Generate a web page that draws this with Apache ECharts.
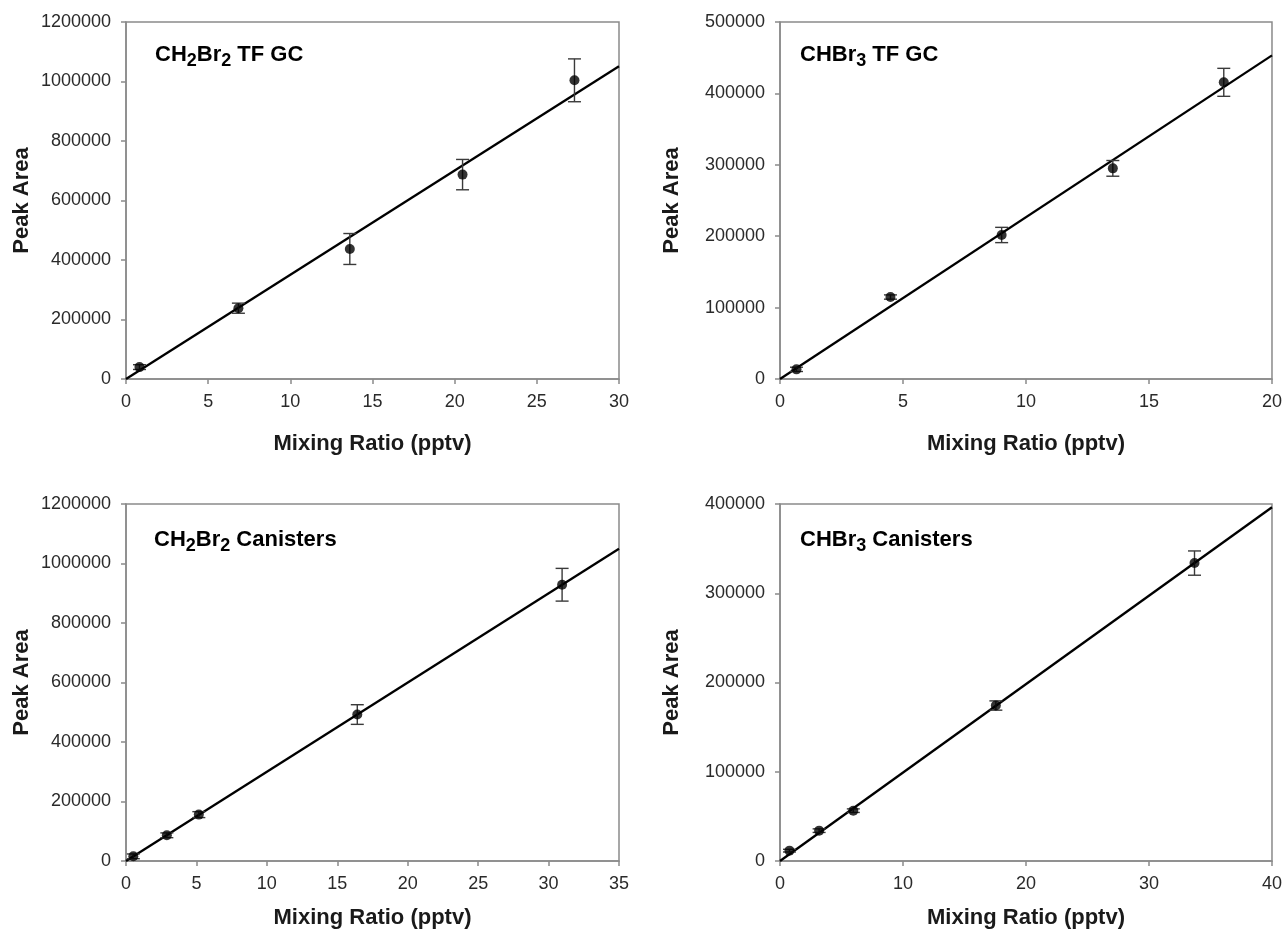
<!DOCTYPE html>
<html>
<head>
<meta charset="utf-8">
<title>Peak area calibration</title>
<script src="https://cdn.jsdelivr.net/npm/echarts@6/dist/echarts.min.js"></script>
<style>
  html, body { margin: 0; padding: 0; background: #fff; }
  #chart { width: 1285px; height: 933px; }
</style>
</head>
<body>
<div id="chart"></div>
<script>
// CH2Br2, TF GC standards
const xCH2Br2TF = [0.82, 6.84, 13.62, 20.48, 27.29];
const yCH2Br2TF = [40000, 238000, 437000, 687000, 1004000];
const eCH2Br2TF = [8000, 17000, 52000, 51000, 72000];
const fitCH2Br2TF = [[0, 0], [30, 1051000]];

// CHBr3, TF GC standards
const xCHBr3TF = [0.67, 4.49, 9.01, 13.53, 18.04];
const yCHBr3TF = [13500, 114800, 201700, 295000, 415500];
const eCHBr3TF = [3000, 3000, 10700, 11000, 19600];
const fitCHBr3TF = [[0, 0], [20, 453300]];

// CH2Br2, canister standards
const xCH2Br2Can = [0.52, 2.90, 5.17, 16.42, 30.96];
const yCH2Br2Can = [15700, 86400, 155900, 492300, 928600];
const eCH2Br2Can = [8000, 8000, 10000, 33000, 55000];
const fitCH2Br2Can = [[0, 0], [35, 1049700]];

// CHBr3, canister standards
const xCHBr3Can = [0.77, 3.18, 5.96, 17.55, 33.70];
const yCHBr3Can = [11600, 34000, 56400, 174200, 333800];
const eCHBr3Can = [1500, 2000, 2000, 5200, 13600];
const fitCHBr3Can = [[0, 0], [40, 396300]];

// axis ranges: [xMax, xStep, yMax, yStep]
const axisCH2Br2TF = [30, 5, 1200000, 200000];
const axisCHBr3TF = [20, 5, 500000, 100000];
const axisCH2Br2Can = [35, 5, 1200000, 200000];
const axisCHBr3Can = [40, 10, 400000, 100000];

const xTitle = 'Mixing Ratio (pptv)';
const yTitle = 'Peak Area';

const FONT = '"Liberation Sans", Arial, Helvetica, sans-serif';
const AXIS_GRAY = '#8a8a8a';

const panels = [
  { x: xCH2Br2TF, y: yCH2Br2TF, e: eCH2Br2TF, fit: fitCH2Br2TF, ax: axisCH2Br2TF,
    grid: { left: 126, top: 22, width: 493, height: 357 }, xGap: 54, yGap: 93,
    label: '{m|CH}{s|2}{m|Br}{s|2}{m| TF GC}', lx: 155, ly: 44 },
  { x: xCHBr3TF, y: yCHBr3TF, e: eCHBr3TF, fit: fitCHBr3TF, ax: axisCHBr3TF,
    grid: { left: 780, top: 22, width: 492, height: 357 }, xGap: 54, yGap: 97,
    label: '{m|CHBr}{s|3}{m| TF GC}', lx: 800, ly: 44 },
  { x: xCH2Br2Can, y: yCH2Br2Can, e: eCH2Br2Can, fit: fitCH2Br2Can, ax: axisCH2Br2Can,
    grid: { left: 126, top: 504, width: 493, height: 357 }, xGap: 46, yGap: 93,
    label: '{m|CH}{s|2}{m|Br}{s|2}{m| Canisters}', lx: 154, ly: 529 },
  { x: xCHBr3Can, y: yCHBr3Can, e: eCHBr3Can, fit: fitCHBr3Can, ax: axisCHBr3Can,
    grid: { left: 780, top: 504, width: 492, height: 357 }, xGap: 46, yGap: 97,
    label: '{m|CHBr}{s|3}{m| Canisters}', lx: 800, ly: 529 }
];

const grids = [], xAxes = [], yAxes = [], series = [], graphics = [];

panels.forEach((p, i) => {
  grids.push(Object.assign({ show: true, borderColor: AXIS_GRAY, borderWidth: 1.5,
    backgroundColor: 'transparent', containLabel: false }, p.grid));

  xAxes.push({
    gridIndex: i, type: 'value', min: 0, max: p.ax[0], interval: p.ax[1],
    name: xTitle, nameLocation: 'middle', nameGap: p.xGap,
    nameTextStyle: { fontFamily: FONT, fontSize: 22, fontWeight: 'bold', color: '#1a1a1a' },
    axisLine: { show: true, onZero: false, lineStyle: { color: AXIS_GRAY, width: 1.5 } },
    axisTick: { show: true, inside: false, length: 5, lineStyle: { color: AXIS_GRAY, width: 1.5 } },
    axisLabel: { fontFamily: FONT, fontSize: 18, color: '#2a2a2a', margin: 14 },
    splitLine: { show: false }
  });

  yAxes.push({
    gridIndex: i, type: 'value', min: 0, max: p.ax[2], interval: p.ax[3],
    name: yTitle, nameLocation: 'middle', nameGap: p.yGap, nameRotate: 90,
    nameTextStyle: { fontFamily: FONT, fontSize: 22, fontWeight: 'bold', color: '#1a1a1a' },
    axisLine: { show: true, onZero: false, lineStyle: { color: AXIS_GRAY, width: 1.5 } },
    axisTick: { show: true, inside: false, length: 5, lineStyle: { color: AXIS_GRAY, width: 1.5 } },
    axisLabel: { fontFamily: FONT, fontSize: 18, color: '#2a2a2a', margin: 15,
      formatter: v => String(v) },
    splitLine: { show: false }
  });

  // linear fit
  series.push({
    type: 'line', xAxisIndex: i, yAxisIndex: i, data: p.fit,
    showSymbol: false, silent: true, z: 2,
    lineStyle: { color: '#000', width: 2.3 }
  });

  // error bars (value ± e)
  series.push({
    type: 'custom', xAxisIndex: i, yAxisIndex: i, z: 3,
    data: p.x.map((xv, k) => [xv, p.y[k], p.e[k]]),
    encode: { x: 0, y: 1 },
    renderItem: function (params, api) {
      const xv = api.value(0), yv = api.value(1), ev = api.value(2);
      const hi = api.coord([xv, yv + ev]);
      const lo = api.coord([xv, yv - ev]);
      const hw = 6.5;
      const st = { stroke: '#3a3a3a', lineWidth: 1.4 };
      return {
        type: 'group',
        children: [
          { type: 'line', shape: { x1: hi[0], y1: hi[1], x2: lo[0], y2: lo[1] }, style: st },
          { type: 'line', shape: { x1: hi[0] - hw, y1: hi[1], x2: hi[0] + hw, y2: hi[1] }, style: st },
          { type: 'line', shape: { x1: lo[0] - hw, y1: lo[1], x2: lo[0] + hw, y2: lo[1] }, style: st }
        ]
      };
    }
  });

  // measured points
  series.push({
    type: 'scatter', xAxisIndex: i, yAxisIndex: i, z: 4,
    data: p.x.map((xv, k) => [xv, p.y[k]]),
    symbol: 'circle', symbolSize: 10,
    itemStyle: { color: '#000' }
  });

  // panel label with subscripts
  graphics.push({
    type: 'text', left: p.lx, top: p.ly, z: 10,
    style: {
      text: p.label,
      fontFamily: FONT,
      rich: {
        m: { fontFamily: FONT, fontSize: 22, fontWeight: 'bold', color: '#1a1a1a',
             lineHeight: 30, verticalAlign: 'middle' },
        s: { fontFamily: FONT, fontSize: 18, fontWeight: 'bold', color: '#1a1a1a',
             lineHeight: 17, verticalAlign: 'bottom' }
      }
    }
  });
});

const chart = echarts.init(document.getElementById('chart'), null, { renderer: 'canvas' });
chart.setOption({
  backgroundColor: '#fff',
  animation: false,
  grid: grids,
  xAxis: xAxes,
  yAxis: yAxes,
  series: series,
  graphic: graphics
});
</script>
</body>
</html>
